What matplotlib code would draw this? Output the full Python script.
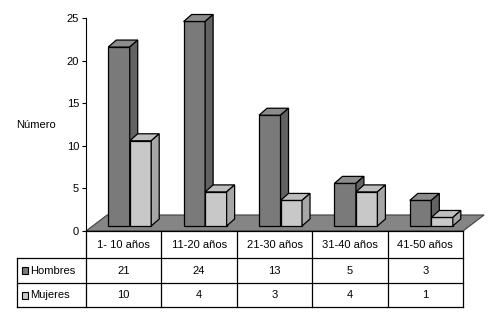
import matplotlib
matplotlib.use("Agg")
import matplotlib.pyplot as plt
from matplotlib.patches import Polygon, Rectangle


# datos
categorias = ["1- 10 años", "11-20 años", "21-30 años", "31-40 años", "41-50 años"]
series = ["Hombres", "Mujeres"]
hombres = [21, 24, 13, 5, 3]
mujeres = [10, 4, 3, 4, 1]

plt.rcParams["font.family"] = ["Liberation Sans", "DejaVu Sans"]
plt.rcParams["font.size"] = 7.5

# colores (frente, tapa, lado)
col_h = ("#7a7a7a", "#8c8c8c", "#626262")
col_m = ("#c8c8c8", "#bebebe", "#a6a6a6")
col_suelo = "#858585"

W, H = 488, 318

# perspectiva en unidades de datos
ancho = 0.285          # ancho de cada barra
ox, oy = 0.08, 0.59    # desplazamiento del plano de las barras
dx, dy = 0.106, 0.82   # profundidad de cada barra
fx, fy = 0.28, 1.88    # profundidad del suelo


def barra(ax, x0, h, colores):
    x1 = x0 + ancho
    frente = Rectangle((x0, oy), ancho, h)
    tapa = Polygon([(x0, oy + h), (x1, oy + h), (x1 + dx, oy + h + dy), (x0 + dx, oy + h + dy)])
    lado = Polygon([(x1, oy), (x1 + dx, oy + dy), (x1 + dx, oy + h + dy), (x1, oy + h)])
    for p, c in zip((frente, tapa, lado), colores):
        p.set_facecolor(c)
        p.set_edgecolor("black")
        p.set_linewidth(0.9)
        p.set_clip_on(False)
        p.set_joinstyle("miter")
        ax.add_patch(p)


fig = plt.figure(figsize=(W / 100, H / 100), dpi=100)

ax = fig.add_axes([86 / W, (H - 231) / H, 377 / W, 213 / H])
ax.set_xlim(-0.5, 4.5)
ax.set_ylim(0, 25)
for s in ("top", "right", "bottom"):
    ax.spines[s].set_visible(False)
ax.spines["left"].set_linewidth(0.8)
ax.set_xticks([])
ax.set_yticks(range(0, 26, 5))
ax.tick_params(axis="y", length=3, width=0.8, pad=2, labelsize=8)

# suelo
suelo = Polygon([(-0.5, 0), (4.5, 0), (4.5 + fx, fy), (-0.5 + fx, fy)],
                facecolor=col_suelo, edgecolor="#404040", linewidth=0.8, clip_on=False)
ax.add_patch(suelo)

for i in range(len(categorias)):
    barra(ax, i - ancho + ox, hombres[i], col_h)
    barra(ax, i + ox, mujeres[i], col_m)

fig.text(36 / W, 1 - 125 / H, "Número", ha="center", va="center", fontsize=8)

# tabla de datos
tab = fig.add_axes([86 / W, (H - 307) / H, 377 / W, 76 / H])
tab.set_xlim(-0.5, 4.5)
tab.set_ylim(76, 0)
tab.axis("off")

xl = -0.5 - 69 / 75.4
filas = [0, 27, 52, 76]
lk = dict(color="black", linewidth=0.9, clip_on=False)

tab.plot([-0.5, 4.5], [filas[0], filas[0]], **lk)
for y in filas[1:]:
    tab.plot([xl, 4.5], [y, y], **lk)
for i in range(len(categorias) + 1):
    tab.plot([i - 0.5, i - 0.5], [0, 76], **lk)
tab.plot([xl, xl], [27, 76], **lk)

for i, cat in enumerate(categorias):
    tab.text(i, 14, cat, ha="center", va="center", fontsize=8)
    tab.text(i, 40, str(hombres[i]), ha="center", va="center", fontsize=8)
    tab.text(i, 64.5, str(mujeres[i]), ha="center", va="center", fontsize=8)

for j, (nombre, c) in enumerate(zip(series, (col_h[0], col_m[0]))):
    yc = (filas[j + 1] + filas[j + 2]) / 2
    tab.add_patch(Rectangle((xl + 5 / 75.4, yc - 3.5), 6 / 75.4, 7, facecolor=c,
                            edgecolor="black", linewidth=0.8, clip_on=False))
    tab.text(xl + 13 / 75.4, yc, nombre, ha="left", va="center", fontsize=8)

fig.savefig("out.png", dpi=100)
